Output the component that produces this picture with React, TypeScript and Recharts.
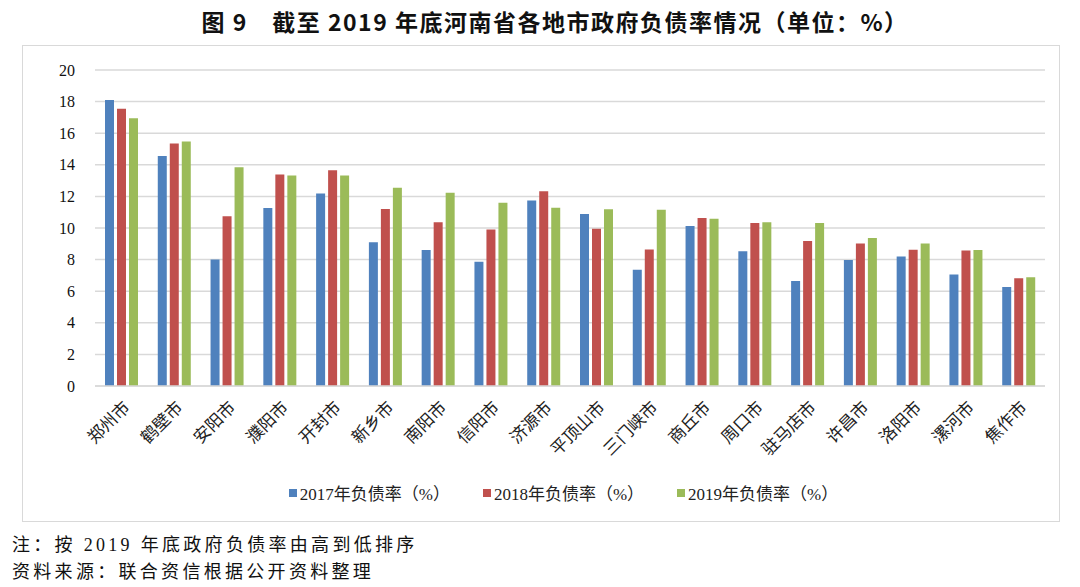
import React from 'react';
import { BarChart, Bar, XAxis, YAxis, CartesianGrid, Legend } from 'recharts';

const cities = ['郑州市', '鹤壁市', '安阳市', '濮阳市', '开封市', '新乡市', '南阳市', '信阳市', '济源市', '平顶山市', '三门峡市', '商丘市', '周口市', '驻马店市', '许昌市', '洛阳市', '漯河市', '焦作市'];
const rate2017 = [18.1, 14.55, 8.0, 11.26, 12.19, 9.1, 8.6, 7.86, 11.74, 10.88, 7.35, 10.12, 8.53, 6.65, 7.98, 8.19, 7.05, 6.27];
const rate2018 = [17.55, 15.35, 10.75, 13.39, 13.66, 11.21, 10.37, 9.9, 12.33, 9.95, 8.64, 10.64, 10.31, 9.17, 9.02, 8.62, 8.57, 6.82];
const rate2019 = [16.94, 15.48, 13.85, 13.33, 13.33, 12.55, 12.23, 11.6, 11.28, 11.19, 11.15, 10.58, 10.37, 10.31, 9.36, 9.02, 8.6, 6.88];
const yTicks = [0, 2, 4, 6, 8, 10, 12, 14, 16, 18, 20];
const seriesNames = ['2017年负债率（%）', '2018年负债率（%）', '2019年负债率（%）'];
const seriesColors = ['#4f81bd', '#c0504d', '#9bbb59'];

const data = cities.map((name, i) => ({ name, r2017: rate2017[i], r2018: rate2018[i], r2019: rate2019[i] }));

const FONT = "'Liberation Serif', 'Noto Sans CJK SC', serif";

const LegendContent = () => (
  <div style={{ display: 'flex', justifyContent: 'center', gap: 33, fontFamily: FONT, fontSize: 17, color: '#222', paddingLeft: 60, marginTop: 2 }}>
    {seriesNames.map((n, i) => (
      <div key={n} style={{ display: 'flex', alignItems: 'center' }}>
        <span style={{ display: 'inline-block', width: 8, height: 8, background: seriesColors[i], marginRight: 3 }} />
        <span>{n}</span>
      </div>
    ))}
  </div>
);

export default function App() {
  return (
    <div style={{ position: 'absolute', left: 0, top: 0, width: 1080, height: 587, background: '#fff' }}>
      <div style={{ position: 'absolute', left: 0, top: 4, width: 1110, textAlign: 'center', fontFamily: "'Noto Sans CJK SC', sans-serif", fontWeight: 700, fontSize: 23, letterSpacing: 1.5, color: '#111' }}>
        图 9　截至 2019 年底河南省各地市政府负债率情况（单位：%）
      </div>
      <div style={{ position: 'absolute', left: 22, top: 45, width: 1036, height: 475, border: '1px solid #d9d9d9' }} />
      <div style={{ position: 'absolute', left: 22, top: 45 }}>
        <BarChart width={1038} height={477} data={data} margin={{ top: 25, right: 15, left: 0, bottom: 16 }} barGap={3} barCategoryGap="19%">
          <CartesianGrid vertical={false} stroke="#d9d9d9" strokeWidth={1.5} />
          <XAxis dataKey="name" interval={0} height={92} tickLine={false} axisLine={{ stroke: '#d9d9d9', strokeWidth: 1.5 }}
            tick={{ angle: -45, textAnchor: 'end', fontSize: 17, fill: '#222', fontFamily: FONT, dx: 1, dy: 6 }} />
          <YAxis domain={[0, 20]} ticks={yTicks} width={73} axisLine={false} tickLine={false} tickSize={0} tickMargin={20}
            tick={{ fontSize: 16, fill: '#111', fontFamily: FONT }} />
          <Legend verticalAlign="bottom" height={28} content={<LegendContent />} />
          <Bar dataKey="r2017" name={seriesNames[0]} fill={seriesColors[0]} barSize={9} isAnimationActive={false} />
          <Bar dataKey="r2018" name={seriesNames[1]} fill={seriesColors[1]} barSize={9} isAnimationActive={false} />
          <Bar dataKey="r2019" name={seriesNames[2]} fill={seriesColors[2]} barSize={9} isAnimationActive={false} />
        </BarChart>
      </div>
      <div style={{ position: 'absolute', left: 12, top: 532, fontFamily: FONT, fontSize: 18, letterSpacing: 3.3, color: '#111', lineHeight: '27px' }}>
        <div>注：按 2019 年底政府负债率由高到低排序</div>
        <div>资料来源：联合资信根据公开资料整理</div>
      </div>
    </div>
  );
}
